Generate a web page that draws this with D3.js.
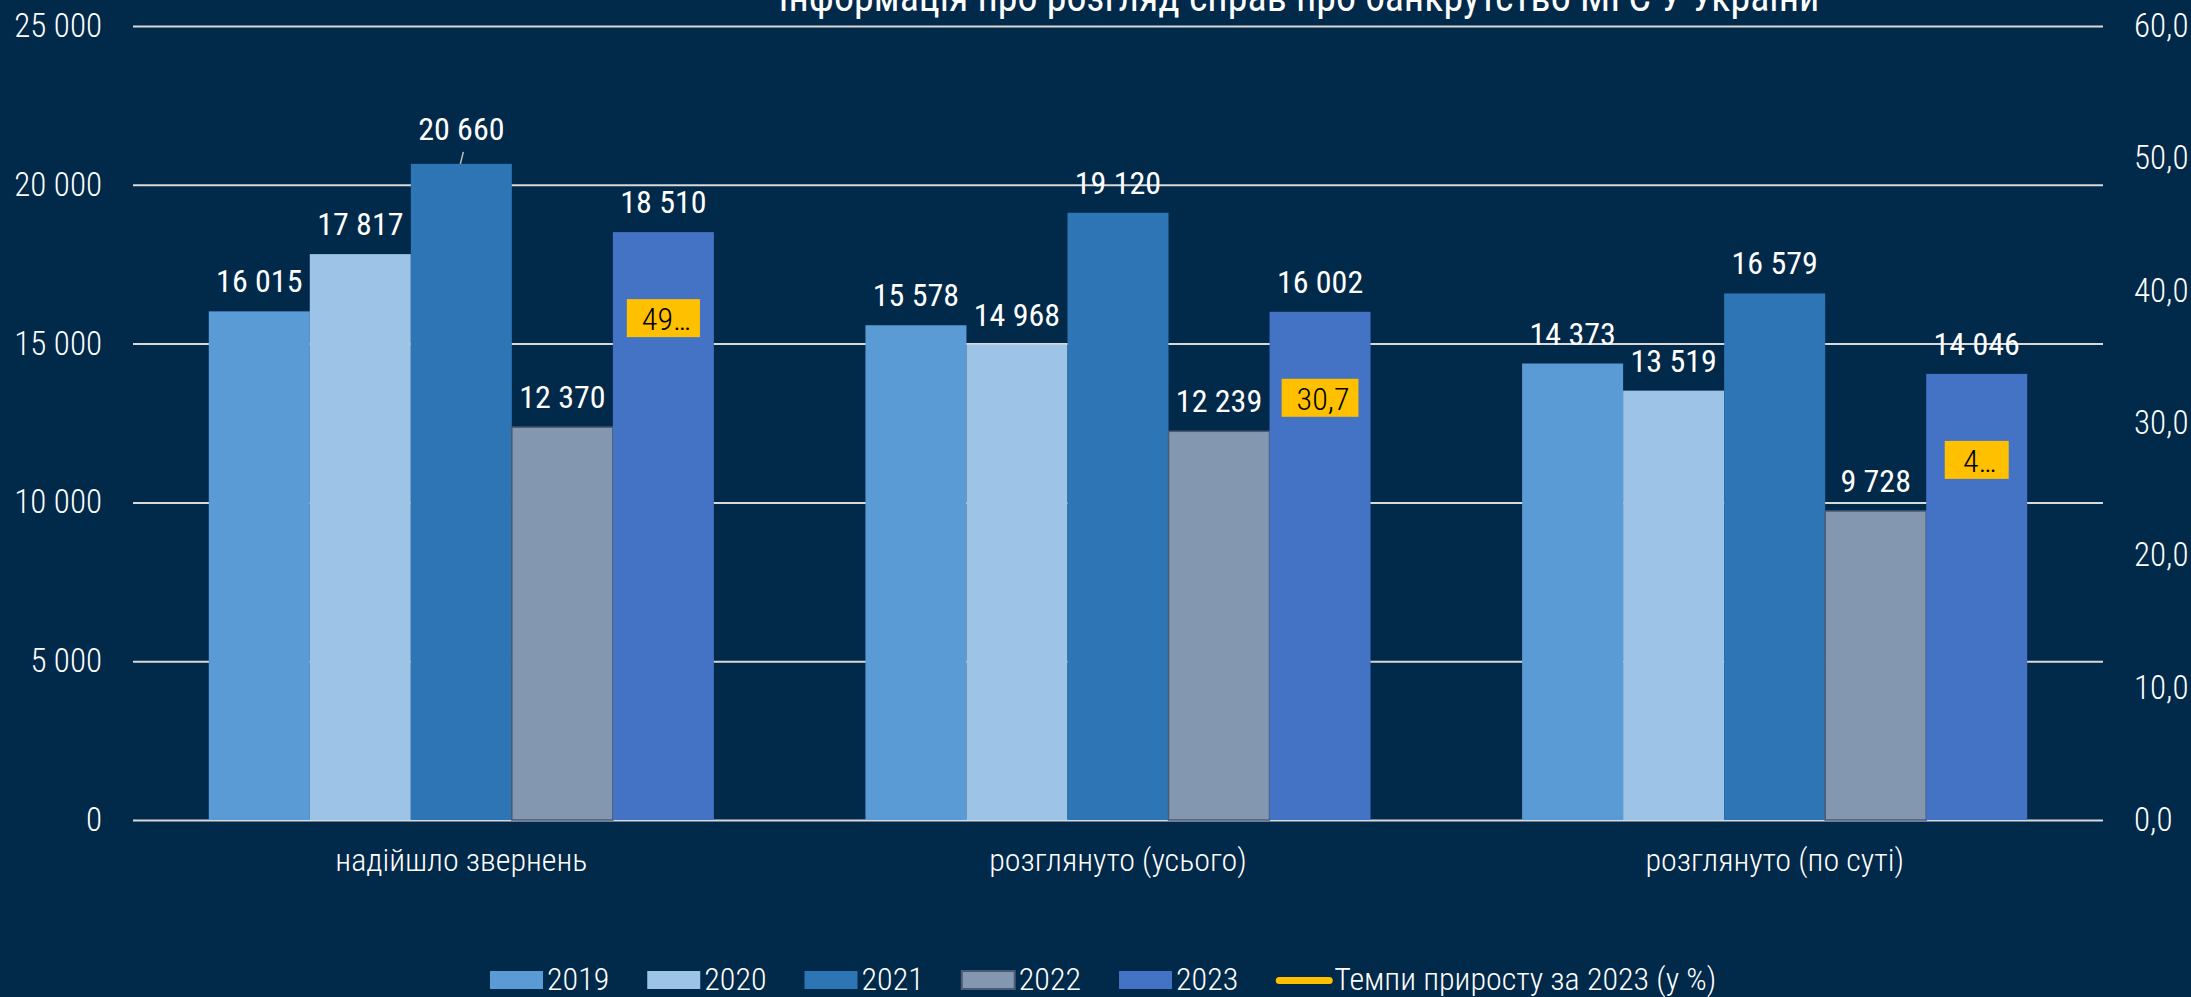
<!DOCTYPE html>
<html>
<head>
<meta charset="utf-8">
<script src="https://cdn.jsdelivr.net/npm/d3@7"></script>
<style>
  html, body { margin: 0; padding: 0; background: #01294a; overflow: hidden; }
  text { font-family: "Roboto Condensed", Roboto, "Liberation Sans Narrow", sans-serif; }
</style>
</head>
<body>
<svg id="chart"></svg>
<script>
const categories = ["надійшло звернень", "розглянуто (усього)", "розглянуто (по суті)"];
const years = ["2019", "2020", "2021", "2022", "2023"];
const values2019 = [16015, 15578, 14373];
const values2020 = [17817, 14968, 13519];
const values2021 = [20660, 19120, 16579];
const values2022 = [12370, 12239, 9728];
const values2023 = [18510, 16002, 14046];
const growth2023 = [49.6, 30.7, 44.4];
// labels as they show on the picture (the boxes cut them)
const growthText = ["49…", "30,7", "4…"];
const leftTicks = [0, 5000, 10000, 15000, 20000, 25000];
const rightTicks = [0, 10, 20, 30, 40, 50, 60];
const title = "Інформація про розгляд справ про банкрутство МГС У України";
const lineLegend = "Темпи приросту за 2023 (у %)";

const width = 2191;
const height = 997;
const margin = { top: 26, right: 88, bottom: 177, left: 133 };
const colors = ["#5b9bd5", "#9dc3e6", "#2e75b6", "#8497b0", "#4472c4"];
const seriesValues = [values2019, values2020, values2021, values2022, values2023];

const svg = d3.select("#chart").attr("width", width).attr("height", height);
svg.append("rect").attr("width", width).attr("height", height).attr("fill", "#01294a");

const x0 = d3.scaleBand().domain(categories).range([margin.left, width - margin.right]);
const x1 = d3.scaleBand().domain(years).range([0, x0.bandwidth()]).paddingOuter(0.75);
const y = d3.scaleLinear().domain([0, 25000]).range([height - margin.bottom, margin.top]);
const yR = d3.scaleLinear().domain([0, 60]).range([height - margin.bottom, margin.top]);

function ctext(g, x, yy, str) {
  return g.append("text").attr("x", x).attr("y", yy).text(str);
}

// title (cut at the top, as in the picture)
ctext(svg, 1299, 11, title)
  .attr("text-anchor", "middle")
  .style("font-size", "40px")
  .style("fill", "#fff");

// left axis with gridlines
const fmtLeft = (d) => d3.format(",")(d).replace(/,/g, " ");
const gL = svg.append("g")
  .attr("transform", `translate(${margin.left},0)`)
  .call(d3.axisLeft(y).tickValues(leftTicks).tickFormat(fmtLeft)
    .tickSize(-(width - margin.left - margin.right)).tickPadding(31));
gL.select(".domain").remove();
gL.selectAll("line").attr("stroke", "#d9d9d9").attr("stroke-width", 2);
gL.selectAll("text")
  .attr("x", -31)
  .style("font-size", "33px").style("font-weight", 300)
  .attr("fill", "#fff");

// right axis
const gR = svg.append("g")
  .attr("transform", `translate(${width - margin.right},0)`)
  .call(d3.axisRight(yR).tickValues(rightTicks)
    .tickFormat((d) => d3.format(".1f")(d).replace(".", ",")).tickSize(0));
gR.select(".domain").remove();
gR.selectAll("text")
  .attr("x", 31)
  .style("font-size", "33px").style("font-weight", 300)
  .attr("fill", "#fff");

// bars
const maxValue = d3.max(seriesValues.flat());
categories.forEach((cat, ci) => {
  const g = svg.append("g").attr("transform", `translate(${x0(cat)},0)`);
  years.forEach((yr, si) => {
    const v = seriesValues[si][ci];
    const bx = x1(yr);
    g.append("rect")
      .attr("x", bx)
      .attr("y", y(v))
      .attr("width", x1.bandwidth())
      .attr("height", y(0) - y(v))
      .attr("fill", colors[si])
      .attr("stroke", si === 3 ? "#4a5a74" : "none")
      .attr("stroke-width", 1.5);
    const cx = bx + x1.bandwidth() / 2;
    let off = 19;
    if (v === maxValue) {
      // label pushed up a bit, with a leader line
      off = 24;
      g.append("line")
        .attr("x1", cx - 1).attr("y1", y(v))
        .attr("x2", cx + 2).attr("y2", y(v) - 12)
        .attr("stroke", "#bfbfbf").attr("stroke-width", 1.5);
    }
    ctext(g, cx, y(v) - off, d3.format(",")(v).replace(/,/g, " "))
      .attr("text-anchor", "middle")
      .style("font-size", "32px")
      .style("fill", "#fff");
  });

  // growth label inside the 2023 bar
  const cx5 = x1("2023") + x1.bandwidth() / 2;
  const ly = y(values2023[ci]) + 86;
  const lab = ctext(g, cx5 + 3, ly + 12, growthText[ci])
    .attr("text-anchor", "middle")
    .style("font-size", "32px").style("font-weight", 300)
    .style("fill", "#000");
  const w = Math.max(64, lab.node().getComputedTextLength() + 24);
  g.append("rect")
    .datum(growth2023[ci])
    .attr("x", cx5 - w / 2).attr("y", ly - 19)
    .attr("width", w).attr("height", 38)
    .attr("fill", "#ffc000");
  lab.raise();
});

// category labels
categories.forEach((cat) => {
  ctext(svg, x0(cat) + x0.bandwidth() / 2, 871, cat)
    .attr("text-anchor", "middle")
    .style("font-size", "32px").style("font-weight", 300)
    .style("fill", "#fff");
});

// legend
const legend = svg.append("g").attr("transform", "translate(490,0)");
let lx = 0;
years.forEach((yr, i) => {
  legend.append("rect")
    .attr("x", lx).attr("y", 971).attr("width", 53).attr("height", 18)
    .attr("fill", colors[i])
    .attr("stroke", i === 3 ? "#4a5a74" : "none").attr("stroke-width", 2);
  const t = ctext(legend, lx + 57, 990, yr)
    .style("font-size", "32px").style("font-weight", 300).style("fill", "#fff");
  lx += 57 + t.node().getComputedTextLength() + 38;
});
legend.append("line")
  .attr("x1", lx + 3).attr("x2", lx + 53).attr("y1", 980.5).attr("y2", 980.5)
  .attr("stroke", "#ffc000").attr("stroke-width", 7).attr("stroke-linecap", "round");
ctext(legend, lx + 58, 990, lineLegend)
  .style("font-size", "32px").style("font-weight", 300).style("fill", "#fff");
</script>
</body>
</html>
